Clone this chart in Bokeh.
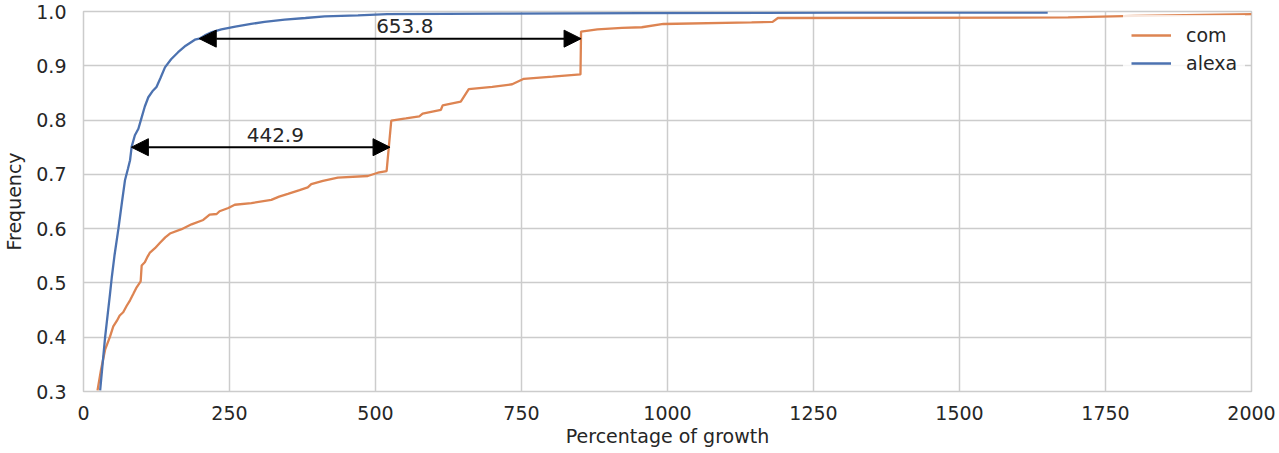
from bokeh.plotting import figure
from bokeh.models import Arrow, NormalHead, FixedTicker, ColumnDataSource
from bokeh.core.properties import value
from bokeh.embed import file_html
from bokeh.resources import INLINE

# ---- data ----
alexa_x = [28.5, 37, 45.4, 48.4, 53, 59.8, 66, 71, 76, 79.7, 82.5, 88, 94, 99.6, 105, 111,
           118, 125, 132, 139.5, 150, 162, 175, 190.7, 198.2, 207.8, 220, 236, 260, 287,
           310, 344.5, 380, 413, 470, 520, 717, 956, 1300, 1651]
alexa_y = [0.302, 0.400, 0.480, 0.510, 0.550, 0.600, 0.650, 0.689, 0.710, 0.726, 0.751,
           0.772, 0.784, 0.805, 0.825, 0.842, 0.853, 0.861, 0.878, 0.897, 0.912, 0.925,
           0.937, 0.948, 0.950, 0.956, 0.962, 0.967, 0.972, 0.977, 0.981, 0.985, 0.988,
           0.991, 0.993, 0.995, 0.996, 0.997, 0.998, 0.998]

com_x = [24, 30, 37, 45.4, 51, 57, 62, 68, 74, 79.7, 85.4, 91, 97.9, 99.6, 105, 110, 113.8,
         122.4, 131, 140, 148, 168, 185, 205, 216, 228, 233, 248, 259, 287.5, 321.6, 335,
         350, 370, 384, 390, 410, 435.5, 486.8, 504, 519, 527, 552, 575, 580.7, 612, 615,
         646, 659.7, 700, 734, 754, 803, 851, 852, 880, 922, 956, 993, 1144, 1180, 1189,
         1686, 1800, 2000]
com_y = [0.302, 0.340, 0.377, 0.401, 0.420, 0.430, 0.440, 0.446, 0.458, 0.468, 0.480, 0.492,
         0.503, 0.532, 0.538, 0.549, 0.556, 0.564, 0.574, 0.584, 0.591, 0.599, 0.608, 0.616,
         0.626, 0.627, 0.632, 0.638, 0.644, 0.647, 0.653, 0.659, 0.664, 0.671, 0.676, 0.682,
         0.688, 0.694, 0.697, 0.703, 0.706, 0.799, 0.803, 0.807, 0.812, 0.819, 0.827, 0.834,
         0.857, 0.861, 0.866, 0.876, 0.880, 0.884, 0.963, 0.967, 0.970, 0.971, 0.977, 0.980,
         0.981, 0.988, 0.989, 0.992, 0.995]

arrow_y = [0.75, 0.95]
arrow_start = [82.0, 198.2]
arrow_diff = [442.9, 653.8]

x_ticks = [0, 250, 500, 750, 1000, 1250, 1500, 1750, 2000]
y_ticks = [0.3, 0.4, 0.5, 0.6, 0.7, 0.8, 0.9, 1.0]
y_tick_labels = ["0.3", "0.4", "0.5", "0.6", "0.7", "0.8", "0.9", "1.0"]

BLUE = "#4c72b0"
ORANGE = "#dd8452"
TXT = "#262626"
GRID = "#cccccc"
FONT = "DejaVu Sans"

p = figure(width=1276, height=452, x_range=(0, 2000), y_range=(0.3, 1.0),
           output_backend="svg", toolbar_location=None,
           min_border_left=80, min_border_right=25, min_border_top=11, min_border_bottom=61)

p.background_fill_color = "white"
p.border_fill_color = "white"
p.outline_line_color = GRID
p.outline_line_width = 1.5

p.xgrid.grid_line_color = GRID
p.ygrid.grid_line_color = GRID
p.xgrid.grid_line_width = 1.5
p.ygrid.grid_line_width = 1.5

p.xaxis.ticker = FixedTicker(ticks=x_ticks)
p.yaxis.ticker = FixedTicker(ticks=y_ticks)
p.yaxis.major_label_overrides = {t: l for t, l in zip(y_ticks, y_tick_labels)}

for ax in (p.xaxis[0], p.yaxis[0]):
    ax.axis_line_color = None
    ax.major_tick_line_color = None
    ax.minor_tick_line_color = None
    ax.major_tick_out = 0
    ax.major_tick_in = 0
    ax.major_label_text_font = FONT
    ax.major_label_text_font_size = "19px"
    ax.major_label_text_color = TXT
    ax.axis_label_text_font = FONT
    ax.axis_label_text_font_size = "19px"
    ax.axis_label_text_font_style = "normal"
    ax.axis_label_text_color = TXT

p.xaxis.axis_label = "Percentage of growth"
p.yaxis.axis_label = "Frequency"
p.xaxis.major_label_standoff = 14
p.xaxis.axis_label_standoff = 2
p.yaxis.major_label_standoff = 17
p.yaxis.axis_label_standoff = 8

p.line(com_x, com_y, line_color=ORANGE, line_width=2.3, legend_label="com")
p.line(alexa_x, alexa_y, line_color=BLUE, line_width=2.3, legend_label="alexa")

# arrows and difference labels
arrow_end = [s + d for s, d in zip(arrow_start, arrow_diff)]
for ys, xs, xe in zip(arrow_y, arrow_start, arrow_end):
    p.add_layout(Arrow(x_start=xs, y_start=ys, x_end=xe, y_end=ys,
                       line_color="black", line_width=2,
                       start=NormalHead(size=17, fill_color="black", line_color="black", line_width=1),
                       end=NormalHead(size=17, fill_color="black", line_color="black", line_width=1)))

lbl = ColumnDataSource(dict(
    x=[(s + e) / 2 + 25 for s, e in zip(arrow_start, arrow_end)],
    y=[y + 0.023 for y in arrow_y],
    t=["%.1f" % d for d in arrow_diff],
))
p.text(x="x", y="y", text="t", source=lbl, text_align="center", text_baseline="middle",
       text_font=value(FONT), text_font_size="20px", text_color=TXT)

lg = p.legend[0]
lg.location = (1040, 308)
lg.label_text_font = FONT
lg.label_text_font_size = "19px"
lg.label_text_color = TXT
lg.glyph_width = 40
lg.glyph_height = 24
lg.label_height = 24
lg.label_standoff = 15
lg.spacing = 4
lg.padding = 8
lg.margin = 0
lg.border_line_alpha = 0
lg.background_fill_color = "white"
lg.background_fill_alpha = 0.8

open("out.html", "w").write(file_html(p, INLINE))
